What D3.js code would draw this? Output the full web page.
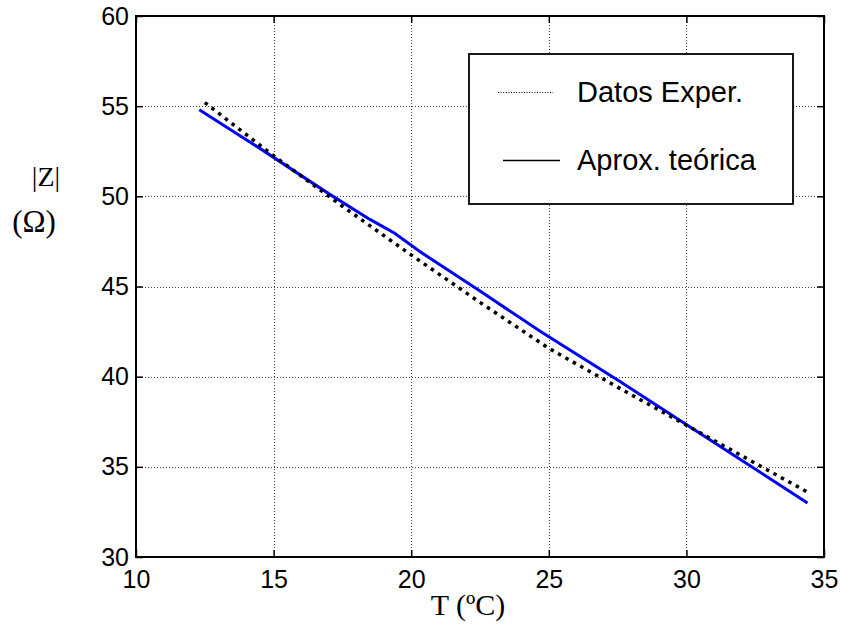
<!DOCTYPE html>
<html>
<head>
<meta charset="utf-8">
<script src="https://cdn.jsdelivr.net/npm/d3@7"></script>
<style>
  html, body { margin: 0; padding: 0; background: #fff; }
  svg { display: block; }
</style>
</head>
<body>
<svg id="chart" width="841" height="632"></svg>
<script>
// Temperature (ºC) and impedance magnitude |Z| (Ω)
const expT = [12.5, 15, 17.5, 20, 22.5, 25, 27.5, 30, 32.5, 34.4];
const expZ = [55.2, 52.25, 49.45, 46.75, 44.12, 41.57, 39.42, 37.31, 35.2, 33.6];

const teoT = [12.3, 14.5, 17.0, 18.5, 19.4, 20.3, 22.5, 24.7, 27.6, 30.5, 34.4];
const teoZ = [54.8, 52.66, 50.15, 48.72, 47.95, 46.95, 44.75, 42.5, 39.72, 36.85, 33.0];

const xTicks = [10, 15, 20, 25, 30, 35];
const yTicks = [30, 35, 40, 45, 50, 55, 60];

const legendLabels = ["Datos Exper.", "Aprox. teórica"];

const svg = d3.select("#chart");
const m = { left: 136, top: 16, right: 17, bottom: 75 };
const W = 841 - m.left - m.right;
const H = 632 - m.top - m.bottom;

const x = d3.scaleLinear().domain([10, 35]).range([0, W]);
const y = d3.scaleLinear().domain([30, 60]).range([H, 0]);

const g = svg.append("g").attr("transform", `translate(${m.left},${m.top})`);

// dotted grid
const grid = g.append("g").attr("stroke", "#444").attr("stroke-width", 1)
  .attr("stroke-dasharray", "1,2").attr("shape-rendering", "crispEdges");
grid.selectAll("line.v").data(xTicks.slice(1, -1)).join("line")
  .attr("x1", d => Math.round(x(d)) + 0.5).attr("x2", d => Math.round(x(d)) + 0.5)
  .attr("y1", 0).attr("y2", H);
grid.selectAll("line.h").data(yTicks.slice(1, -1)).join("line")
  .attr("y1", d => Math.round(y(d)) + 0.5).attr("y2", d => Math.round(y(d)) + 0.5)
  .attr("x1", 0).attr("x2", W);

// axes with inward ticks on all four sides
const tickFont = "Liberation Sans, Arial, sans-serif";
function styleAxis(sel, labels) {
  sel.select(".domain").remove();
  sel.selectAll(".tick line").attr("stroke", "#000").attr("stroke-width", 1.5);
  sel.selectAll(".tick text").attr("fill", "#000")
    .style("font-family", tickFont).style("font-size", "25px");
  if (!labels) sel.selectAll(".tick text").remove();
}
g.append("g").attr("transform", `translate(0,${H})`)
  .call(d3.axisBottom(x).tickValues(xTicks).tickSize(-7).tickPadding(13))
  .call(s => styleAxis(s, true));
g.append("g")
  .call(d3.axisTop(x).tickValues(xTicks).tickSize(-7))
  .call(s => styleAxis(s, false));
g.append("g")
  .call(d3.axisLeft(y).tickValues(yTicks).tickSize(-7).tickPadding(7))
  .call(s => styleAxis(s, true));
g.append("g").attr("transform", `translate(${W},0)`)
  .call(d3.axisRight(y).tickValues(yTicks).tickSize(-7))
  .call(s => styleAxis(s, false));

// frame
g.append("rect").attr("x", 0).attr("y", 0).attr("width", W).attr("height", H)
  .attr("fill", "none").attr("stroke", "#000").attr("stroke-width", 2);

// data lines
const line = d3.line().x(d => x(d[0])).y(d => y(d[1]));
g.append("path").datum(teoT.map((t, i) => [t, teoZ[i]]))
  .attr("d", line).attr("fill", "none").attr("stroke", "#0000ff").attr("stroke-width", 3);
g.append("path").datum(expT.map((t, i) => [t, expZ[i]]))
  .attr("d", line).attr("fill", "none").attr("stroke", "#000").attr("stroke-width", 3.5)
  .attr("stroke-dasharray", "3.5,5");

// legend
const lg = svg.append("g");
lg.append("rect").attr("x", 469).attr("y", 54).attr("width", 324).attr("height", 150)
  .attr("fill", "#fff").attr("stroke", "#000").attr("stroke-width", 1.8);
lg.append("line").attr("x1", 498).attr("x2", 553).attr("y1", 92.5).attr("y2", 92.5)
  .attr("stroke", "#000").attr("stroke-width", 1).attr("stroke-dasharray", "1,1.6");
lg.append("line").attr("x1", 503).attr("x2", 560).attr("y1", 160.5).attr("y2", 160.5)
  .attr("stroke", "#000").attr("stroke-width", 1.3);
lg.selectAll("text").data(legendLabels).join("text")
  .attr("x", 577).attr("y", (d, i) => 102 + i * 68)
  .style("font-family", tickFont).style("font-size", "29px").attr("fill", "#000")
  .text(d => d);

// axis titles
const serif = "Liberation Serif, Times New Roman, serif";
svg.append("text").attr("x", 46).attr("y", 186).attr("text-anchor", "middle")
  .style("font-family", serif).style("font-size", "28px").text("|Z|");
svg.append("text").attr("x", 34).attr("y", 232).attr("text-anchor", "middle")
  .style("font-family", serif).style("font-size", "31px").text("(Ω)");
svg.append("text").attr("x", 468).attr("y", 615).attr("text-anchor", "middle")
  .style("font-family", serif).style("font-size", "30px").text("T (ºC)");
</script>
</body>
</html>
